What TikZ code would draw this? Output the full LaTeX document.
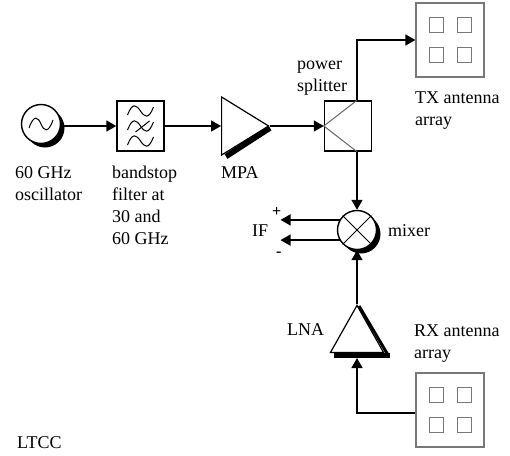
\documentclass[tikz,border=0pt]{standalone}
\usepackage{fontspec}
\setmainfont{Liberation Serif}
\usetikzlibrary{shapes.geometric, arrows.meta, positioning, shadows, calc}
\definecolor{boxgray}{RGB}{120,120,120}
\tikzset{
  block/.style    = {rectangle, draw=black, line width=1.4pt, fill=white, inner sep=0pt,
                     minimum width=#1, minimum height=50pt},
  block/.default  = 47pt,
  round/.style    = {circle, draw=black, line width=1.4pt, fill=white, inner sep=0pt,
                     minimum size=#1,
                     drop shadow={shadow xshift=4pt, shadow yshift=-4pt, fill=black, opacity=1}},
  amp/.style      = {isosceles triangle, isosceles triangle stretches, draw=black,
                     line width=1.2pt, fill=white, inner sep=0pt, anchor=lower side,
                     minimum width=#1, minimum height=47pt},
  amp/.default    = 58pt,
  array/.style    = {rectangle, draw=boxgray, line width=1.2pt, inner sep=0pt,
                     minimum width=68pt, minimum height=74pt},
  patch/.style    = {rectangle, draw=boxgray, line width=1pt, inner sep=0pt,
                     minimum width=14pt, minimum height=15pt},
  arrow/.style    = {-{Triangle[length=10pt, width=11pt]}, line width=1.4pt},
  inner/.style    = {line width=1pt},
  bar/.style      = {line width=5.5pt},
  label/.style    = {anchor=base west, inner sep=0pt, align=left,
                     font=\fontsize{18}{22}\selectfont},
  sign/.style     = {anchor=base west, inner sep=0pt, font=\fontsize{16}{16}\selectfont\bfseries},
}
\begin{document}
\begin{tikzpicture}[x=1pt, y=-1pt]
  \useasboundingbox (0,0) rectangle (510,455);

  % transmit chain
  \node[round=39pt] (osc) at (41,124) {};
  \node[block] (filt) at (140.5,126) {};
  \node[amp] (mpa) at (221,126) {};
  \node[block] (split) at (348,126) {};
  \node[array] (tx) at (450,40) {};
  \draw[bar] (226,156.5) -- (270,128);

  % receive chain
  \node[round=39pt] (mix) at (357,230) {};
  \node[amp=53pt, shape border rotate=90] (lna) at (357,353) {};
  \node[array] (rx) at (450,410) {};
  \draw[bar] (334,355.5) -- (390,355.5);
  \draw[line width=3pt] (359,306) -- (388,355);

  % antenna patches
  \foreach \dx in {-14,14}
    \foreach \dy in {-15,15} {
      \node[patch] at ($(tx)+(\dx,\dy)$) {};
      \node[patch] at ($(rx)+(\dx,\dy)$) {};
    }

  % symbols inside the blocks
  \draw[inner, shift={(osc.center)}] (-12,4) .. controls (-7,-10) and (-3,-7) .. (0,0)
    .. controls (3,7) and (7,10) .. (12,-4);
  \foreach \dy in {-15,0,15}
    \draw[inner, shift={(filt.center)}] (-13,\dy+4) .. controls (-8,\dy-9) and (-4,\dy-6) .. (0,\dy)
      .. controls (4,\dy+6) and (8,\dy+9) .. (13,\dy-4);
  \draw[inner, shift={(filt.center)}] (-5,6) -- (9,-5);
  \draw[inner, draw=black!60] (split.north -| mix) -- (split.west) -- (split.south -| mix);
  \draw[inner] (mix.north west) -- (mix.south east);
  \draw[inner] (mix.north east) -- (mix.south west);

  % connectors
  \draw[arrow] (osc.east |- filt) -- (filt);
  \draw[arrow] (filt) -- (mpa.lower side);
  \draw[arrow] (mpa.apex) -- (split.west);
  \draw[arrow] (split.north -| mix) |- (tx.west);
  \draw[arrow] (split.south -| mix) -- (mix.north);
  \draw[arrow] (lna.apex) -- (mix.south);
  \coordinate (rxout) at (rx.west |- 0,413);
  \draw[arrow] (rxout) -| ([yshift=-5pt]lna.lower side);
  \draw[arrow] (mix.150) -- ++(-59,0) coordinate (ifp);
  \draw[arrow] (mix.210) -- ++(-59,0) coordinate (ifm);

  % labels
  \node[label] (osclabel) at (15,200) {60 GHz\\oscillator};
  \node[label] (filtlabel) at (112,244) {bandstop\\filter at\\30 and\\60 GHz};
  \node[label] (mpalabel) at (221,178) {MPA};
  \node[label] (splitlabel) at (297,91) {power\\splitter};
  \node[label] (txlabel) at (415,125) {TX antenna\\array};
  \node[label] (iflabel) at (252,236) {IF};
  \node[label] (mixlabel) at (388,236) {mixer};
  \node[label] (lnalabel) at (287,335) {LNA};
  \node[label] (rxlabel) at (414,358) {RX antenna\\array};
  \node[label] (ltcc) at (17,448) {LTCC};
  \node[sign] (pluslabel) at (272,216) {+};
  \node[sign] (minuslabel) at (276,256) {-};
\end{tikzpicture}
\end{document}
